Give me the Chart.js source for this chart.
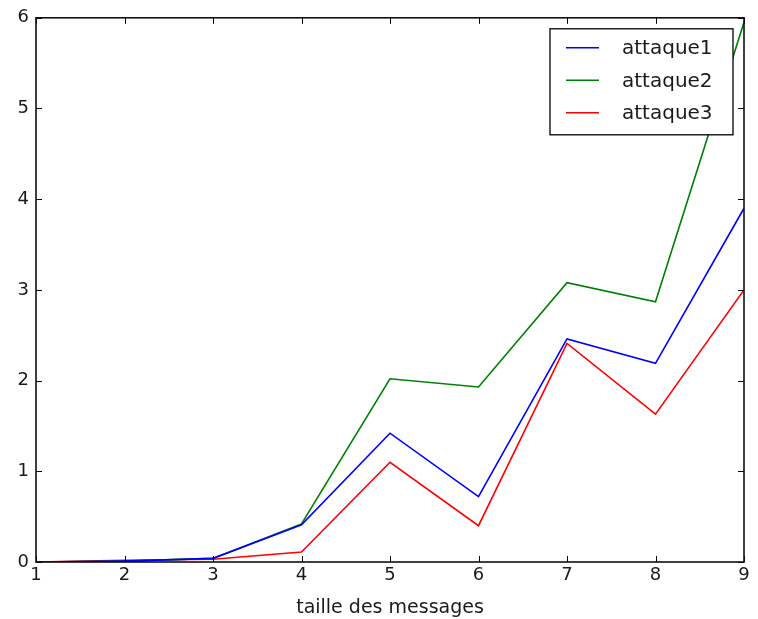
<!DOCTYPE html>
<html>
<head>
<meta charset="utf-8">
<script src="https://cdn.jsdelivr.net/npm/chart.js@4/dist/chart.umd.min.js"></script>
<style>
html,body{margin:0;padding:0;background:#fff;}
#wrap{width:758px;height:619px;}
</style>
</head>
<body>
<div id="wrap"><canvas id="c" width="758" height="619"></canvas></div>
<script>
const sizes = [1, 2, 3, 4, 5, 6, 7, 8, 9];
const attaque1 = [0.0, 0.01, 0.04, 0.41, 1.42, 0.72, 2.46, 2.19, 3.90];
const attaque2 = [0.0, 0.01, 0.04, 0.42, 2.02, 1.93, 3.08, 2.87, 5.95];
const attaque3 = [0.0, 0.02, 0.03, 0.11, 1.10, 0.40, 2.41, 1.63, 3.00];
const seriesNames = ['attaque1', 'attaque2', 'attaque3'];
const xTicks = [1, 2, 3, 4, 5, 6, 7, 8, 9];
const yTicks = [0, 1, 2, 3, 4, 5, 6];
const xTitle = 'taille des messages';

const colors = ['#0000ff', '#008000', '#ff0000'];
const FONT = '"DejaVu Sans", sans-serif';

function pts(vals){ return sizes.map((x,i)=>({x:x, y:vals[i]})); }

const framePlugin = {
  id: 'frame',
  afterDatasetsDraw(chart){
    const ctx = chart.ctx, a = chart.chartArea;
    const xs = chart.scales.x, ys = chart.scales.y;
    ctx.save();
    ctx.strokeStyle = '#000';
    ctx.lineWidth = 1;
    ctx.beginPath();
    xTicks.forEach(v=>{
      const px = Math.round(xs.getPixelForValue(v)) + 0.5;
      ctx.moveTo(px, a.bottom); ctx.lineTo(px, a.bottom - 6);
      ctx.moveTo(px, a.top); ctx.lineTo(px, a.top + 6);
    });
    yTicks.forEach(v=>{
      const py = Math.round(ys.getPixelForValue(v)) + 0.5;
      ctx.moveTo(a.left, py); ctx.lineTo(a.left + 6, py);
      ctx.moveTo(a.right, py); ctx.lineTo(a.right - 6, py);
    });
    ctx.stroke();
    ctx.lineWidth = 1.6;
    ctx.strokeStyle = '#111';
    ctx.strokeRect(a.left, a.top, a.right - a.left, a.bottom - a.top);
    // legend
    const lx = a.right - 194, ly = a.top + 11, lw = 183, lh = 106;
    ctx.fillStyle = '#fff';
    ctx.fillRect(lx, ly, lw, lh);
    ctx.lineWidth = 1.3;
    ctx.strokeStyle = '#000';
    ctx.strokeRect(lx, ly, lw, lh);
    ctx.font = '20px ' + FONT;
    ctx.textBaseline = 'middle';
    ctx.textAlign = 'left';
    chart.data.datasets.forEach((ds, i)=>{
      const y = ly + 19 + i * 32.5;
      ctx.strokeStyle = ds.borderColor;
      ctx.lineWidth = 1.6;
      ctx.beginPath(); ctx.moveTo(lx + 16, y); ctx.lineTo(lx + 49, y); ctx.stroke();
      ctx.fillStyle = '#1a1a1a';
      ctx.fillText(ds.label, lx + 72, y + 1);
    });
    ctx.restore();
  }
};

new Chart(document.getElementById('c'), {
  type: 'line',
  data: {
    datasets: seriesNames.map((n, i)=>({
      label: n,
      data: pts([attaque1, attaque2, attaque3][i]),
      borderColor: colors[i],
      backgroundColor: colors[i],
      borderWidth: 1.6,
      pointRadius: 0,
      tension: 0,
      fill: false
    }))
  },
  options: {
    responsive: false,
    animation: false,
    events: [],
    layout: { padding: { top: 17, right: 14, left: 0, bottom: 0 } },
    plugins: { legend: { display: false }, tooltip: { enabled: false } },
    scales: {
      x: {
        type: 'linear', min: 1, max: 9,
        afterBuildTicks: s => { s.ticks = xTicks.map(v=>({value:v})); },
        afterFit: s => { s.height = 57; },
        grid: { display: false, drawTicks: false },
        border: { display: false },
        ticks: { color: '#1a1a1a', font: { family: FONT, size: 18 }, padding: 3, maxRotation: 0 },
        title: { display: true, text: xTitle, color: '#1a1a1a', font: { family: FONT, size: 19 }, padding: { top: 3, bottom: 0 } }
      },
      y: {
        type: 'linear', min: 0, max: 6,
        afterBuildTicks: s => { s.ticks = yTicks.map(v=>({value:v})); },
        afterFit: s => { s.width = 36; },
        grid: { display: false, drawTicks: false },
        border: { display: false },
        ticks: { color: '#1a1a1a', font: { family: FONT, size: 18 }, padding: 7 }
      }
    }
  },
  plugins: [framePlugin]
});
</script>
</body>
</html>
